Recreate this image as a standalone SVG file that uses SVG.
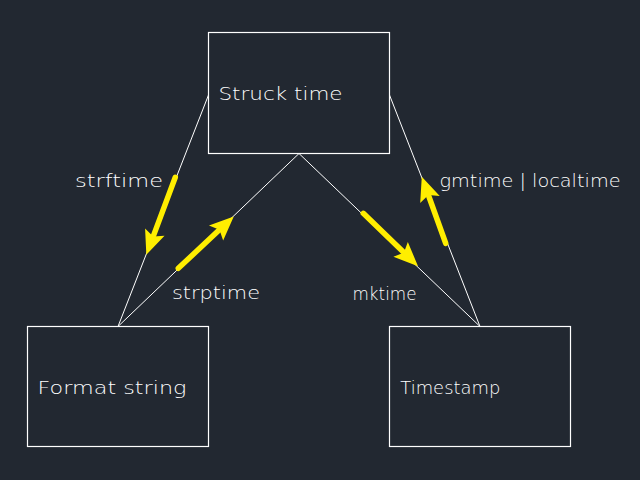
<svg xmlns="http://www.w3.org/2000/svg" width="640" height="480" viewBox="0 0 640 480">
<style>
.bg{fill:#222831}
.box{fill:none;stroke:#ffffff;stroke-width:1.2}
.edge{fill:none;stroke:#ffffff;stroke-width:1}
.arrow{fill:none;stroke:#ffee00;stroke-width:5.5;stroke-linecap:round;marker-end:url(#head)}
.lbl{font-family:"DejaVu Sans",Inter,sans-serif;font-weight:200;font-size:18px;fill:#ffffff}
</style>
<defs>
<marker id="head" markerUnits="userSpaceOnUse" markerWidth="30" markerHeight="30" viewBox="-2 -12 26 24" refX="3" refY="0" orient="auto" overflow="visible">
<path d="M0,-9 L21,0 L0,9 L4,0 Z" fill="#ffee00"/>
</marker>
</defs>
<rect class="bg" x="0" y="0" width="640" height="480"/>
<g id="connectors">
<line class="edge" x1="208.5" y1="95" x2="118" y2="326.5"/>
<line class="edge" x1="299" y1="153.5" x2="118" y2="326.5"/>
<line class="edge" x1="299" y1="153.5" x2="480" y2="326.5"/>
<line class="edge" x1="389.5" y1="95" x2="480" y2="326.5"/>
<line class="arrow" x1="175.3" y1="177.3" x2="153.6" y2="235.4"/>
<line class="arrow" x1="178.3" y1="268.3" x2="218.6" y2="230.6"/>
<line class="arrow" x1="363.3" y1="213.3" x2="403.1" y2="251.8"/>
<line class="arrow" x1="445.7" y1="243.3" x2="428.8" y2="196.2"/>
<text class="lbl" x="75" y="186.7" textLength="88" lengthAdjust="spacingAndGlyphs">strftime</text>
<text class="lbl" x="172" y="299" textLength="88" lengthAdjust="spacingAndGlyphs">strptime</text>
<text class="lbl" x="352.5" y="300" textLength="64" lengthAdjust="spacingAndGlyphs">mktime</text>
<text class="lbl" x="439.5" y="186.7" textLength="181" lengthAdjust="spacingAndGlyphs">gmtime | localtime</text>
</g>
<g id="struck-time">
<rect class="box" x="208.5" y="32.5" width="181" height="121"/>
<text class="lbl" x="218.5" y="100" textLength="124" lengthAdjust="spacingAndGlyphs">Struck time</text>
</g>
<g id="format-string">
<rect class="box" x="27.5" y="326.5" width="181" height="120"/>
<text class="lbl" x="37.5" y="394.3" textLength="149" lengthAdjust="spacingAndGlyphs">Format string</text>
</g>
<g id="timestamp">
<rect class="box" x="389.5" y="326.5" width="181" height="120"/>
<text class="lbl" x="400.3" y="394.3" textLength="100" lengthAdjust="spacingAndGlyphs">Timestamp</text>
</g>
</svg>
